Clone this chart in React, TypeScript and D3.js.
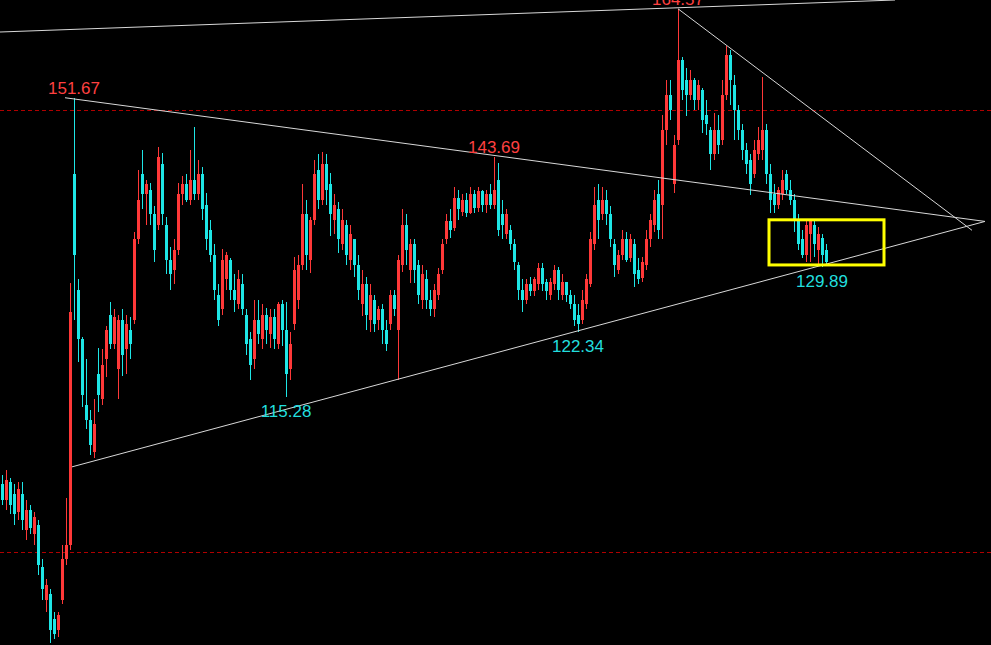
import React from 'react';
import * as d3 from 'd3';

const W = 991;
const H = 645;

// OHLC bars (price), oldest first
const opens = [106.4,104.9,106.6,105.4,103.7,105.4,102.0,103.9,101.6,102.5,98.6,95.7,96.2,94.0,93.1,95.7,99.3,100.6,141.4,127.2,121.5,114.4,112.9,109.6,117.7,115.0,119.3,124.3,121.0,118.2,123.7,120.4,122.6,123.7,133.2,141.4,138.8,139.4,136.3,135.0,142.7,135.0,130.7,129.5,131.9,138.8,140.1,138.1,140.7,138.8,141.4,137.5,134.4,131.3,126.6,124.9,128.4,130.7,127.2,125.5,127.8,124.3,121.5,119.3,123.7,121.5,124.3,122.1,124.0,121.0,125.5,122.6,118.2,123.2,126.0,130.1,136.3,130.7,135.6,142.0,138.1,142.7,140.1,135.6,136.9,132.6,135.0,130.7,133.2,130.1,125.5,127.8,123.7,126.0,123.7,124.9,122.6,123.2,126.6,122.6,130.1,135.0,129.5,132.6,130.1,126.0,128.4,126.0,124.9,126.6,129.5,133.2,135.4,134.6,138.4,136.6,138.1,136.5,138.8,137.1,139.2,137.5,138.8,137.5,140.7,136.3,133.8,134.4,132.6,130.1,127.2,126.0,127.8,127.0,127.8,129.7,128.1,126.6,127.8,129.5,126.6,128.1,126.6,125.5,124.3,123.7,125.5,127.8,132.6,138.1,136.3,138.1,136.3,132.6,129.5,131.3,133.2,130.9,132.6,129.5,128.6,130.1,133.2,135.0,138.8,137.5,147.3,152.1,140.1,145.9,157.0,154.2,152.1,154.2,151.4,152.8,149.3,147.3,144.0,147.3,145.9,152.1,157.8,153.5,150.0,147.3,144.6,143.3,141.4,144.0,144.6,147.3,141.4,138.8,137.5,138.8,141.4,139.4,138.1,135.4,133.2,131.3,133.8,135.0,131.9,133.4,131.9];
const highs = [107.3,107.8,107.0,106.4,106.6,106.6,104.9,104.4,103.7,103.0,99.3,97.5,96.6,94.6,94.6,100.6,105.1,128.0,151.67,128.4,121.8,119.3,113.9,115.0,120.6,120.4,123.0,125.8,124.9,124.3,124.9,124.3,124.0,134.1,142.0,144.6,140.7,140.3,137.3,145.0,144.2,135.9,132.3,133.2,140.3,141.2,141.4,144.6,147.7,143.3,142.3,139.0,135.6,132.6,127.8,132.0,131.6,130.9,129.0,129.5,129.0,124.9,122.3,126.0,126.0,125.5,125.1,124.9,124.9,125.8,126.0,125.8,122.3,131.1,131.3,140.1,138.1,135.9,143.3,144.0,144.3,144.0,141.6,138.8,137.8,136.9,135.6,135.0,133.2,131.3,129.5,128.7,127.8,126.6,125.3,125.5,123.7,127.2,127.2,131.3,136.9,136.3,133.2,133.2,130.7,130.1,129.5,127.2,127.8,129.7,133.2,136.3,136.9,139.7,139.4,138.8,139.0,139.7,139.4,139.7,139.4,139.4,140.1,143.69,142.9,138.1,136.9,135.0,133.2,130.5,128.4,128.4,128.7,128.7,130.3,130.3,128.4,128.6,130.1,129.9,129.0,128.1,127.2,126.6,125.5,127.2,129.0,134.1,139.8,140.1,139.8,139.4,137.3,133.2,131.9,134.4,134.1,133.8,133.2,130.9,131.1,134.4,136.3,139.4,140.7,149.3,154.2,154.2,146.6,164.57,157.5,155.9,155.6,154.5,154.2,153.1,151.4,147.7,149.6,149.3,154.2,159.0,158.5,154.9,150.7,148.0,145.5,144.0,145.9,147.7,154.6,148.0,142.7,140.1,139.8,142.0,142.0,140.7,138.8,136.3,134.4,135.6,135.7,135.6,134.7,133.8,132.6];
const lows = [104.4,103.9,103.5,102.5,103.0,102.0,101.1,101.6,100.6,97.9,95.7,94.6,92.0,92.3,92.5,95.3,98.8,100.2,123.7,119.0,114.2,111.9,109.3,109.0,113.7,114.4,117.4,120.4,120.4,115.0,117.5,117.7,119.3,123.2,132.6,136.9,135.0,135.0,130.4,134.4,135.0,129.0,127.2,127.8,131.3,137.5,137.8,137.5,138.1,138.1,135.6,131.9,130.4,126.0,123.0,124.3,127.2,126.0,124.6,124.9,124.3,119.8,117.1,118.2,121.0,120.4,121.0,120.6,120.4,120.4,120.8,115.28,117.1,122.6,124.9,129.5,129.5,129.2,135.0,136.9,137.5,137.5,133.6,133.8,131.5,131.9,130.1,129.5,128.7,126.0,124.1,122.6,122.3,122.3,122.6,121.0,120.2,122.6,124.1,117.1,129.3,130.1,128.0,128.0,125.5,124.9,124.9,124.1,124.0,126.0,129.0,132.6,133.4,134.2,135.6,136.1,135.9,136.3,136.5,136.6,136.6,136.5,136.9,136.9,133.6,133.2,133.2,131.9,129.5,126.0,124.6,125.5,126.4,126.4,127.2,127.0,126.0,126.0,127.2,126.0,126.0,125.8,124.9,123.0,122.34,123.2,124.9,127.5,131.9,133.2,135.6,135.0,132.3,128.7,129.0,130.7,130.4,130.5,127.5,127.8,128.1,129.5,132.3,134.1,133.2,133.2,145.3,148.6,139.0,145.3,151.4,149.1,151.4,150.0,150.0,146.8,146.6,142.0,143.3,144.0,145.3,151.4,150.7,145.9,145.9,143.3,141.4,138.7,140.9,143.3,143.3,140.1,136.5,136.5,136.9,138.1,138.8,137.5,134.1,131.9,130.9,130.5,130.5,131.1,130.1,129.89,130.1];
const closes = [104.9,106.8,104.4,103.5,105.9,103.0,103.9,102.2,103.2,98.8,96.6,97.0,93.1,92.7,94.4,99.3,100.6,124.6,131.3,121.5,115.5,112.9,110.3,112.4,115.5,118.7,122.6,121.0,124.0,123.7,119.8,123.2,121.0,133.2,138.1,138.8,140.1,136.3,131.9,143.6,136.3,130.7,129.0,131.9,138.8,140.1,138.1,140.7,138.8,141.4,136.9,133.2,131.3,127.2,123.7,130.7,131.3,127.2,126.0,128.4,124.9,121.0,118.7,123.7,122.1,124.3,122.6,124.0,121.5,125.5,122.6,117.7,121.0,129.5,130.1,136.3,131.3,135.6,141.4,138.1,142.7,139.4,136.3,137.5,133.2,135.6,131.3,133.8,130.1,127.2,127.8,124.3,126.6,123.2,124.9,122.6,121.0,126.6,124.9,130.7,135.0,131.9,132.6,129.5,126.6,129.0,126.0,124.9,127.2,129.0,132.6,135.4,134.4,138.4,136.9,138.1,136.5,138.8,137.1,139.2,137.5,138.8,137.5,139.4,134.4,135.0,136.3,132.6,130.5,127.2,126.0,127.8,127.0,128.4,129.7,127.8,127.0,128.1,129.5,127.2,128.1,126.6,125.5,123.7,123.2,126.0,128.4,133.2,137.5,135.6,138.1,136.3,133.2,130.1,131.3,133.2,130.7,133.2,129.0,128.4,130.5,133.2,135.6,138.1,134.4,147.3,152.1,150.0,145.3,157.0,152.8,152.1,154.2,151.4,153.5,148.6,148.0,144.0,147.3,145.3,152.1,157.8,154.2,150.0,147.3,144.6,142.7,140.1,144.6,145.9,147.3,141.4,138.1,137.5,139.4,140.7,139.4,138.1,135.4,132.6,131.3,135.0,135.4,132.6,133.8,131.3,130.5];

// Reference price levels (dashed)
const levels = [150, 100];

// Trend lines: [bar index, price] -> [bar index, price]
const trendStart = [[-0.5, 161.1], [15.75, 151.67], [17.5, 108.1], [169, 164.57]];
const trendEnd = [[223.25, 165.9], [245.75, 135.4], [245.75, 135.4], [242.5, 134.3]];

// Extreme labels
const highLabelBars = [18, 123, 169];
const lowLabelBars = [71, 144, 205];

// Highlight box: bar index range and price range
const boxBars = [191.75, 220.5];
const boxPrices = [135.6, 130.1];

const UP = '#ff3838';
const DOWN = '#1ee6e6';

export default function App() {
  const n = closes.length;
  const x = d3.scaleLinear().domain([0, n - 1]).range([2, 2 + 4 * (n - 1)]);
  const y = d3.scaleLog().domain([91.8, 165.9]).range([H, 0]);

  const fmt = d3.format('.2f');

  return (
    <svg
      width={W}
      height={H}
      style={{ position: 'fixed', left: 0, top: 0, display: 'block', background: '#000' }}
    >
      <rect x={0} y={0} width={W} height={H} fill="#000" />
      {levels.map((lv, k) => (
        <line
          key={'lv' + k}
          x1={0}
          x2={W}
          y1={Math.round(y(lv)) + 0.5}
          y2={Math.round(y(lv)) + 0.5}
          stroke="#b00000"
          strokeWidth={1}
          strokeDasharray="4,3"
          shapeRendering="crispEdges"
        />
      ))}
      <g shapeRendering="crispEdges">
        {closes.map((c, i) => {
          const o = opens[i];
          const up = c >= o;
          const col = up ? UP : DOWN;
          const cx = x(i);
          const yTop = Math.round(y(Math.max(o, c)));
          const yBot = Math.round(y(Math.min(o, c)));
          return (
            <g key={i}>
              <line
                x1={cx + 0.5}
                x2={cx + 0.5}
                y1={Math.round(y(highs[i]))}
                y2={Math.round(y(lows[i]))}
                stroke={col}
                strokeWidth={1}
              />
              <rect x={cx - 1} y={yTop} width={3} height={Math.max(1, yBot - yTop)} fill={col} />
            </g>
          );
        })}
      </g>
      {trendStart.map((s, k) => (
        <line
          key={'t' + k}
          x1={x(s[0])}
          y1={y(s[1])}
          x2={x(trendEnd[k][0])}
          y2={y(trendEnd[k][1])}
          stroke="#d8d8d8"
          strokeWidth={1}
        />
      ))}
      <rect
        x={x(boxBars[0])}
        y={y(boxPrices[0])}
        width={x(boxBars[1]) - x(boxBars[0])}
        height={y(boxPrices[1]) - y(boxPrices[0])}
        fill="none"
        stroke="#ffff00"
        strokeWidth={3}
      />
      {highLabelBars.map((b) => (
        <text
          key={'h' + b}
          x={x(b)}
          y={y(highs[b]) - 4}
          textAnchor="middle"
          fill="#ff4040"
          fontFamily="'Liberation Sans', Arial, sans-serif"
          fontSize={17}
        >
          {fmt(highs[b])}
        </text>
      ))}
      {lowLabelBars.map((b) => (
        <text
          key={'l' + b}
          x={x(b)}
          y={y(lows[b]) + 20}
          textAnchor="middle"
          fill="#22dede"
          fontFamily="'Liberation Sans', Arial, sans-serif"
          fontSize={17}
        >
          {fmt(lows[b])}
        </text>
      ))}
    </svg>
  );
}
